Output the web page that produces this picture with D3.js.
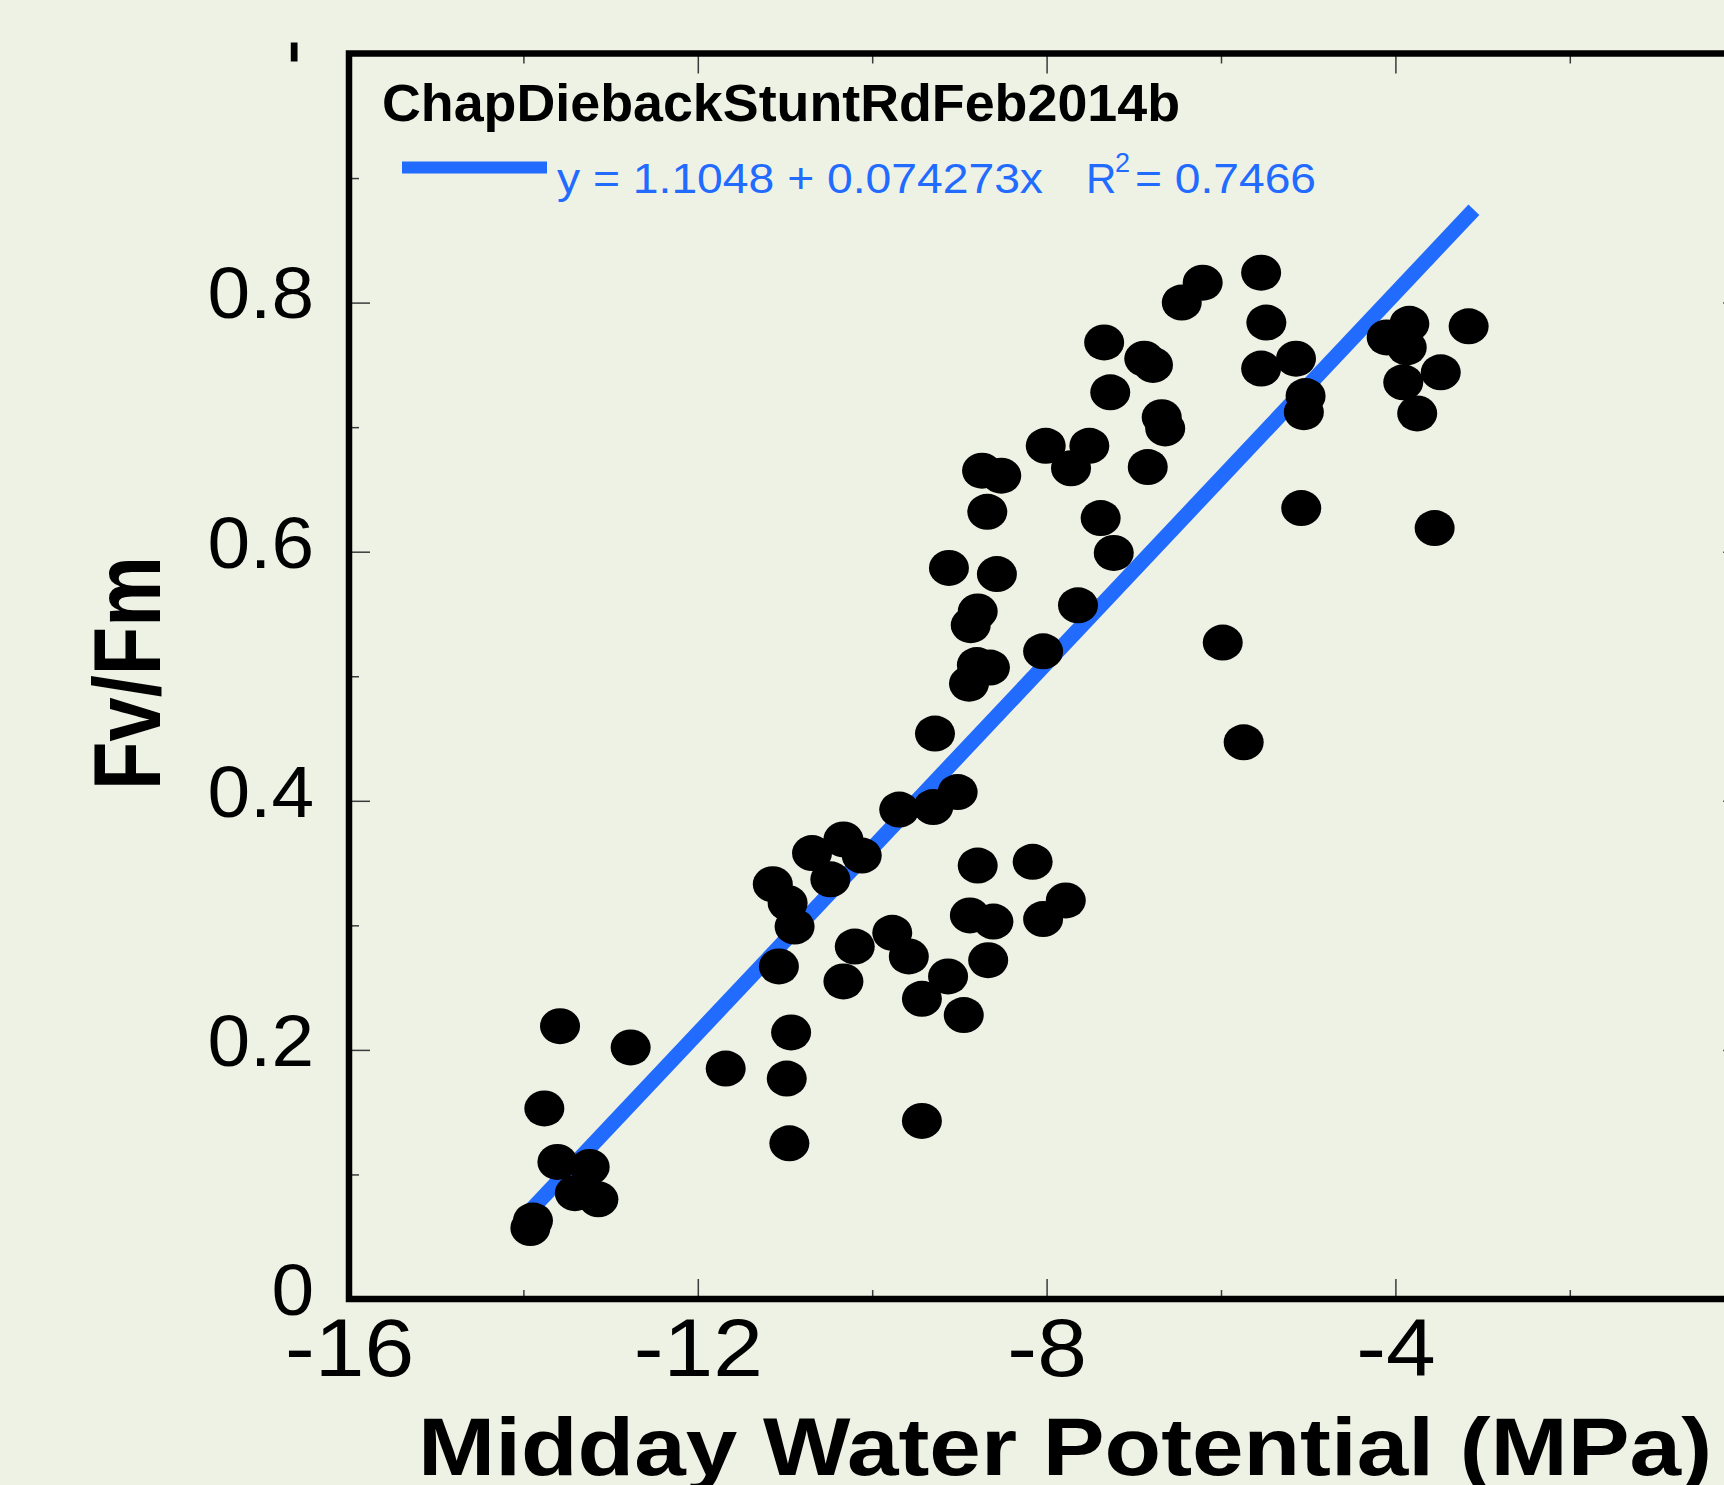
<!DOCTYPE html>
<html lang="en">
  <head>
    <meta charset="UTF-8" />
    <title>Fv/Fm vs Midday Water Potential</title>
    <script src="https://d3js.org/d3.v7.min.js"></script>
    <style>
      body { margin: 0; background: #eef2e5; }
      svg { display: block; font-family: "Liberation Sans", Arial, Helvetica, sans-serif; }
      .tick line { stroke: #3a3a3a; stroke-width: 1.5; }
    </style>
  </head>
  <body>
    <svg id="canvas"></svg>
  </body>
  <script>
    // midday water potential (MPa) and Fv/Fm
    let waterPotential = [-6.21, -6.45, -7.34, -6.88, -6.78, -7.27, -6.68, -6.64, -8.01, -7.51,
      -7.72, -6.84, -8.74, -8.52, -8.68, -7.38, -7.23, -9.12, -8.57, -7.64,
      -8.79, -8.87, -8.04, -8.65, -8.80, -8.89, -9.28,
      -5.54, -5.48, -5.54, -5.14, -5.03, -5.05, -4.10, -3.84, -3.87, -3.16,
      -3.91, -3.48, -3.75, -5.08, -3.55, -5.98, -5.74,
      -10.33, -10.12, -10.69, -10.48, -11.14, -10.97, -10.89, -11.07, -10.20, -10.33,
      -13.58, -10.93, -12.77, -11.68, -10.98, -13.76, -10.95, -13.61, -13.24, -13.41,
      -13.14, -13.89, -13.92,
      -9.69, -9.30, -9.02, -8.79, -8.16, -8.88, -8.61, -7.78, -8.04, -9.77,
      -9.58, -8.67, -9.13, -9.43, -8.95, -9.43];
    let fvFm = [0.816, 0.800, 0.768, 0.755, 0.750, 0.728, 0.708, 0.699, 0.685, 0.685,
      0.667, 0.668, 0.665, 0.661, 0.632, 0.627, 0.599, 0.587, 0.582, 0.557,
      0.552, 0.541, 0.520, 0.507, 0.509, 0.494, 0.454,
      0.824, 0.784, 0.747, 0.755, 0.725, 0.712, 0.772, 0.783, 0.764, 0.781,
      0.736, 0.744, 0.711, 0.635, 0.619, 0.527, 0.447,
      0.369, 0.356, 0.358, 0.337, 0.333, 0.318, 0.299, 0.267, 0.283, 0.255,
      0.219, 0.214, 0.202, 0.185, 0.177, 0.153, 0.125, 0.110, 0.106, 0.085,
      0.080, 0.063, 0.057,
      0.393, 0.395, 0.407, 0.348, 0.351, 0.308, 0.303, 0.320, 0.305, 0.294,
      0.275, 0.272, 0.259, 0.241, 0.228, 0.143];

    // linear fit
    let intercept = 1.1048;
    let slope = 0.074273;
    let rSquared = 0.7466;
    let fitRange = [-14.05, -3.1];

    let xTicks = [-16, -12, -8, -4];
    let xMinorTicks = [-14, -10, -6, -2];
    let yTicks = [0, 0.2, 0.4, 0.6, 0.8, 1];
    let yMinorTicks = [0.1, 0.3, 0.5, 0.7, 0.9];

    let chartTitle = "ChapDiebackStuntRdFeb2014b";
    let xTitle = "Midday Water Potential (MPa)";
    let yTitle = "Fv/Fm";

    let width = 1724;
    let height = 1485;
    let blue = "#226bff";
    let font = "'Liberation Sans', Arial, Helvetica, sans-serif";

    let svg = d3.select("svg").attr("width", width).attr("height", height);

    svg.append("rect").attr("width", width).attr("height", height).attr("fill", "#eef2e5");

    let xScale = d3.scaleLinear().domain([-16, 0]).range([349, 1744.2]);
    let yScale = d3.scaleLinear().domain([0, 1]).range([1299, 53.5]);

    let values = waterPotential.map((w, i) => [w, fvFm[i]]);

    // ticks
    let addAxis = (axis, transform, labels) => {
      let g = svg.append("g").attr("transform", transform).call(axis);
      g.select(".domain").remove();
      if (!labels) g.selectAll("text").remove();
      return g;
    };

    // the original tick font is a bit wider than Liberation Sans
    let widen = (sel, factor) => {
      sel.each(function () {
        let w = this.getComputedTextLength();
        d3.select(this).attr("textLength", w * factor).attr("lengthAdjust", "spacingAndGlyphs");
      });
    };

    let bottomY = "translate(0," + yScale(0) + ")";
    let topY = "translate(0," + yScale(1) + ")";
    let leftX = "translate(" + xScale(-16) + ",0)";
    let rightX = "translate(" + xScale(0) + ",0)";

    let xAxis = addAxis(
      d3.axisBottom(xScale).tickValues(xTicks).tickSizeInner(-20).tickSizeOuter(0)
        .tickPadding(19).tickFormat((d) => String(d)),
      bottomY, true);
    xAxis.selectAll("text")
      .attr("font-family", font).attr("font-size", 82).attr("fill", "#000");
    widen(xAxis.selectAll("text"), 1.09);

    addAxis(d3.axisBottom(xScale).tickValues(xMinorTicks).tickSize(-9), bottomY, false);
    addAxis(d3.axisTop(xScale).tickValues(xTicks).tickSize(-20), topY, false);
    addAxis(d3.axisTop(xScale).tickValues(xMinorTicks).tickSize(-10), topY, false);

    let yAxis = addAxis(
      d3.axisLeft(yScale).tickValues(yTicks).tickSizeInner(-21).tickSizeOuter(0)
        .tickPadding(35).tickFormat((d) => String(d)),
      leftX, true);
    yAxis.selectAll("text")
      .attr("font-family", font).attr("font-size", 73).attr("fill", "#000").attr("dy", "0.21em");
    widen(yAxis.selectAll("text"), 1.05);

    // the "1" at the top is cut off in the original
    svg.append("defs").append("clipPath").attr("id", "cut-one")
      .append("rect").attr("x", -120).attr("y", -11.5).attr("width", 120).attr("height", 19);
    yAxis.selectAll(".tick").filter((d) => d === 1).select("text").attr("clip-path", "url(#cut-one)");

    addAxis(d3.axisLeft(yScale).tickValues(yMinorTicks).tickSize(-10), leftX, false);
    addAxis(d3.axisRight(yScale).tickValues(yTicks).tickSize(-21), rightX, false);
    addAxis(d3.axisRight(yScale).tickValues(yMinorTicks).tickSize(-10), rightX, false);

    // frame
    svg.append("rect")
      .attr("x", xScale(-16)).attr("y", yScale(1))
      .attr("width", xScale(0) - xScale(-16)).attr("height", yScale(0) - yScale(1))
      .attr("fill", "none").attr("stroke", "#000").attr("stroke-width", 6.5);

    // fit line
    svg.append("line")
      .attr("x1", xScale(fitRange[0])).attr("y1", yScale(intercept + slope * fitRange[0]))
      .attr("x2", xScale(fitRange[1])).attr("y2", yScale(intercept + slope * fitRange[1]))
      .attr("stroke", blue).attr("stroke-width", 15);

    // points
    svg.append("g").selectAll("ellipse")
      .data(values).enter().append("ellipse")
      .attr("cx", (d) => xScale(d[0]))
      .attr("cy", (d) => yScale(d[1]))
      .attr("rx", 20).attr("ry", 18)
      .attr("fill", "#000");

    // legend block
    svg.append("text").attr("x", 382).attr("y", 121)
      .attr("font-family", font).attr("font-weight", "bold").attr("font-size", 51)
      .attr("textLength", 798).attr("lengthAdjust", "spacingAndGlyphs")
      .text(chartTitle);

    svg.append("line").attr("x1", 402).attr("x2", 547).attr("y1", 167.5).attr("y2", 167.5)
      .attr("stroke", blue).attr("stroke-width", 12);

    svg.append("text").attr("x", 557).attr("y", 193)
      .attr("font-family", font).attr("font-size", 42).attr("fill", blue)
      .attr("textLength", 486).attr("lengthAdjust", "spacingAndGlyphs")
      .text("y = " + intercept + " + " + slope + "x");
    svg.append("text").attr("x", 1086).attr("y", 193)
      .attr("font-family", font).attr("font-size", 42).attr("fill", blue).text("R");
    svg.append("text").attr("x", 1115).attr("y", 172)
      .attr("font-family", font).attr("font-size", 27).attr("fill", blue).text("2");
    svg.append("text").attr("x", 1135).attr("y", 193)
      .attr("font-family", font).attr("font-size", 42).attr("fill", blue)
      .attr("textLength", 181).attr("lengthAdjust", "spacingAndGlyphs")
      .text("= " + rSquared);

    // axis titles
    svg.append("text").attr("x", 1065).attr("y", 1475)
      .attr("text-anchor", "middle")
      .attr("font-family", font).attr("font-weight", "bold").attr("font-size", 82)
      .attr("textLength", 1294).attr("lengthAdjust", "spacingAndGlyphs")
      .text(xTitle);

    svg.append("text")
      .attr("transform", "translate(160,673) rotate(-90)")
      .attr("text-anchor", "middle")
      .attr("font-family", font).attr("font-weight", "bold").attr("font-size", 95)
      .attr("textLength", 234).attr("lengthAdjust", "spacingAndGlyphs")
      .text(yTitle);
  </script>
</html>
